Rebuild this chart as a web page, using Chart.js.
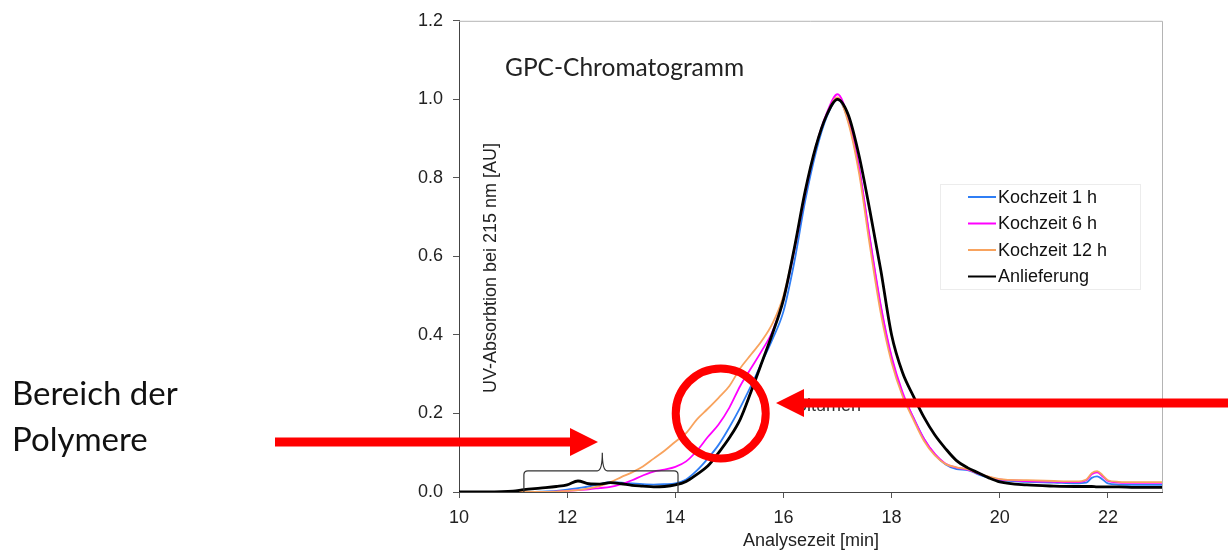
<!DOCTYPE html>
<html>
<head>
<meta charset="utf-8">
<script src="https://cdn.jsdelivr.net/npm/chart.js@4.4.0/dist/chart.umd.min.js"></script>
<style>
  html, body { margin: 0; padding: 0; background: #fff; }
</style>
</head>
<body>
<canvas id="chart" width="1228" height="550"></canvas>
<script>
// Analysezeit [min]
const zeit = [10, 10.5, 11, 11.2, 11.5, 11.8,
  12, 12.2, 12.4, 12.6, 12.8,
  13, 13.2, 13.4, 13.6, 13.8,
  14, 14.2, 14.4, 14.6, 14.8,
  15, 15.2, 15.4, 15.6, 15.8,
  16, 16.2, 16.4, 16.6, 16.8,
  17, 17.2, 17.4, 17.6, 17.8,
  18, 18.2, 18.4, 18.6, 18.8,
  19, 19.2, 19.4, 19.6, 19.8,
  20, 20.5, 21,
  21.4, 21.6, 21.7, 21.8, 21.9, 22,
  22.2, 22.5, 23];

// UV-Absorption [AU]
const kochzeit1h = [0, 0, 0, 0, 0.001, 0.003,
  0.006, 0.01, 0.014, 0.02, 0.025,
  0.024, 0.022, 0.02, 0.019, 0.02,
  0.022, 0.032, 0.055, 0.085, 0.12,
  0.165, 0.215, 0.27, 0.33, 0.39,
  0.46, 0.585, 0.74, 0.865, 0.955,
  1.0, 0.945, 0.82, 0.64, 0.47,
  0.34, 0.25, 0.19, 0.135, 0.095,
  0.07, 0.058, 0.056, 0.045, 0.036,
  0.03, 0.026, 0.024,
  0.022, 0.024, 0.036, 0.04, 0.032, 0.022,
  0.019, 0.018, 0.018];

const kochzeit6h = [0, 0, 0, 0, 0, 0.001,
  0.003, 0.005, 0.007, 0.01, 0.013,
  0.02, 0.03, 0.042, 0.052, 0.057,
  0.064, 0.078, 0.105, 0.14, 0.172,
  0.215, 0.27, 0.315, 0.36, 0.41,
  0.49, 0.615, 0.76, 0.88, 0.965,
  1.013, 0.95, 0.825, 0.645, 0.475,
  0.345, 0.255, 0.19, 0.135, 0.097,
  0.072, 0.062, 0.057, 0.047, 0.038,
  0.032, 0.028, 0.026,
  0.025, 0.03, 0.045, 0.05, 0.04, 0.028,
  0.024, 0.023, 0.023];

const kochzeit12h = [0, 0, 0, 0, 0, 0.001,
  0.003, 0.005, 0.009, 0.015, 0.025,
  0.038, 0.05, 0.065, 0.085, 0.105,
  0.128, 0.15, 0.185, 0.212, 0.24,
  0.27, 0.315, 0.35, 0.385, 0.43,
  0.5, 0.62, 0.765, 0.88, 0.96,
  1.005, 0.94, 0.81, 0.625, 0.455,
  0.33, 0.245, 0.185, 0.13, 0.093,
  0.071, 0.063, 0.058, 0.048, 0.039,
  0.033, 0.03, 0.028,
  0.027, 0.032, 0.048, 0.053, 0.043, 0.03,
  0.026, 0.025, 0.025];

const anlieferung = [0, 0, 0.002, 0.006, 0.01, 0.014,
  0.018, 0.028, 0.021, 0.02, 0.024,
  0.021, 0.017, 0.015, 0.013, 0.014,
  0.018, 0.027, 0.045, 0.066, 0.1,
  0.138, 0.185, 0.255, 0.33, 0.405,
  0.49, 0.62, 0.765, 0.88, 0.96,
  1.0, 0.96, 0.855, 0.715, 0.565,
  0.4, 0.305, 0.245, 0.19, 0.145,
  0.11, 0.08, 0.062, 0.049, 0.036,
  0.026, 0.018, 0.015,
  0.014, 0.014, 0.014, 0.013, 0.013, 0.013,
  0.013, 0.012, 0.012];

const serienNamen = ['Kochzeit 1 h', 'Kochzeit 6 h', 'Kochzeit 12 h', 'Anlieferung'];
const serienWerte = [kochzeit1h, kochzeit6h, kochzeit12h, anlieferung];
const serienFarben = ['#2f7ef5', '#ff00ff', '#f8a35e', '#000000'];
const linienBreite = [1.8, 1.8, 1.8, 2.8];

const xTicks = [10, 12, 14, 16, 18, 20, 22];
const yTicks = [0, 0.2, 0.4, 0.6, 0.8, 1.0, 1.2];

const ARIAL = '"Liberation Sans", Arial, sans-serif';
const CALIBRI = 'Lato, "Open Sans", sans-serif';

const datasets = serienNamen.map((name, i) => ({
  label: name,
  data: zeit.map((t, k) => ({ x: t, y: serienWerte[i][k] })),
  borderColor: serienFarben[i],
  borderWidth: linienBreite[i],
  pointRadius: 0,
  fill: false,
  cubicInterpolationMode: 'monotone',
  order: i === 3 ? 0 : 4 - i
}));

// Beschriftungen, Legende, Pfeile usw.
const extras = {
  id: 'extras',
  afterDraw(chart) {
    const c = chart.ctx;
    const a = chart.chartArea;
    const xs = chart.scales.x;
    const ys = chart.scales.y;
    c.save();

    // Rahmen oben / rechts
    c.strokeStyle = '#b4b4b4';
    c.lineWidth = 1;
    c.beginPath();
    c.moveTo(a.left, a.top + 0.5);
    c.lineTo(a.right + 0.5, a.top + 0.5);
    c.lineTo(a.right + 0.5, a.bottom);
    c.stroke();

    // Titel
    c.fillStyle = '#222';
    c.font = '24.5px ' + CALIBRI;
    c.textAlign = 'left';
    c.textBaseline = 'alphabetic';
    c.fillText('GPC-Chromatogramm', 505, 76);

    // Achsentitel
    c.font = '18px ' + ARIAL;
    c.fillStyle = '#222';
    c.textAlign = 'center';
    c.fillText('Analysezeit [min]', 811, 546);
    c.save();
    c.translate(496, 268);
    c.rotate(-Math.PI / 2);
    c.fillText('UV-Absorbtion bei 215 nm [AU]', 0, 0);
    c.restore();

    // Legende
    c.strokeStyle = '#ececec';
    c.lineWidth = 1;
    c.strokeRect(940.5, 184.5, 200, 105);
    c.textAlign = 'left';
    c.textBaseline = 'middle';
    c.font = '18px ' + ARIAL;
    serienNamen.forEach((name, i) => {
      const yy = 197 + i * 26.5;
      c.strokeStyle = serienFarben[i];
      c.lineWidth = 2;
      c.beginPath();
      c.moveTo(968, yy);
      c.lineTo(996, yy);
      c.stroke();
      c.fillStyle = '#111';
      c.fillText(name, 998, yy + 1);
    });

    // Klammer ueber dem Polymerbereich
    const bL = xs.getPixelForValue(11.2);
    const bR = xs.getPixelForValue(14.05);
    const bM = xs.getPixelForValue(12.65);
    const bY = ys.getPixelForValue(0.054);
    const bTop = ys.getPixelForValue(0.1);
    const bBot = ys.getPixelForValue(0.0);
    c.strokeStyle = '#333';
    c.lineWidth = 1.2;
    c.beginPath();
    c.moveTo(bL, bBot);
    c.lineTo(bL, bY + 4);
    c.quadraticCurveTo(bL, bY, bL + 4, bY);
    c.lineTo(bM - 5, bY);
    c.quadraticCurveTo(bM, bY, bM, bTop);
    c.quadraticCurveTo(bM, bY, bM + 5, bY);
    c.lineTo(bR - 4, bY);
    c.quadraticCurveTo(bR, bY, bR, bY + 4);
    c.lineTo(bR, bBot);
    c.stroke();

    // Bitumen-Text (teilweise vom Pfeil verdeckt)
    c.fillStyle = '#333';
    c.font = '18px ' + ARIAL;
    c.textBaseline = 'alphabetic';
    c.fillText('Bitumen', 795, 411);

    // Kreis
    c.strokeStyle = '#ff0000';
    c.lineWidth = 8;
    c.beginPath();
    c.arc(xs.getPixelForValue(14.84), ys.getPixelForValue(0.2), 45, 0, Math.PI * 2);
    c.stroke();

    // Pfeile
    c.fillStyle = '#ff0000';
    const pfeil = (x0, x1, y, dir) => {
      const head = 28, hh = 14, sh = 4.5;
      c.beginPath();
      c.moveTo(x0, y - sh);
      c.lineTo(x1 - dir * head, y - sh);
      c.lineTo(x1 - dir * head, y - hh);
      c.lineTo(x1, y);
      c.lineTo(x1 - dir * head, y + hh);
      c.lineTo(x1 - dir * head, y + sh);
      c.lineTo(x0, y + sh);
      c.closePath();
      c.fill();
    };
    pfeil(275, 598, 442, 1);
    pfeil(1228, 776, 403, -1);

    // Bereich der Polymere
    c.fillStyle = '#111';
    c.font = '33px ' + CALIBRI;
    c.textAlign = 'left';
    c.fillText('Bereich der', 12, 405);
    c.fillText('Polymere', 12, 451);

    c.restore();
  }
};

const ctx = document.getElementById('chart').getContext('2d');

const chart = new Chart(ctx, {
  type: 'line',
  data: { datasets },
  options: {
    responsive: false,
    animation: false,
    layout: { padding: { left: 0, right: 66, top: 18, bottom: 0 } },
    plugins: {
      legend: { display: false },
      tooltip: { enabled: false }
    },
    scales: {
      x: {
        type: 'linear',
        min: 10,
        max: 23,
        afterBuildTicks: s => { s.ticks = xTicks.map(v => ({ value: v })); },
        afterFit: s => { s.height = 58; },
        grid: { display: true, drawOnChartArea: false, tickLength: 6, color: '#555' },
        border: { color: '#444', width: 1 },
        ticks: {
          font: { family: ARIAL, size: 18 },
          color: '#222',
          padding: 9,
          maxRotation: 0,
          callback: v => String(v)
        }
      },
      y: {
        type: 'linear',
        min: 0,
        max: 1.2,
        afterBuildTicks: s => { s.ticks = yTicks.map(v => ({ value: v })); },
        afterFit: s => { s.width = 459; },
        grid: { display: true, drawOnChartArea: false, tickLength: 6, color: '#555' },
        border: { color: '#444', width: 1 },
        ticks: {
          font: { family: ARIAL, size: 18 },
          color: '#222',
          padding: 10,
          callback: v => v.toFixed(1)
        }
      }
    }
  },
  plugins: [extras]
});
</script>
</body>
</html>
